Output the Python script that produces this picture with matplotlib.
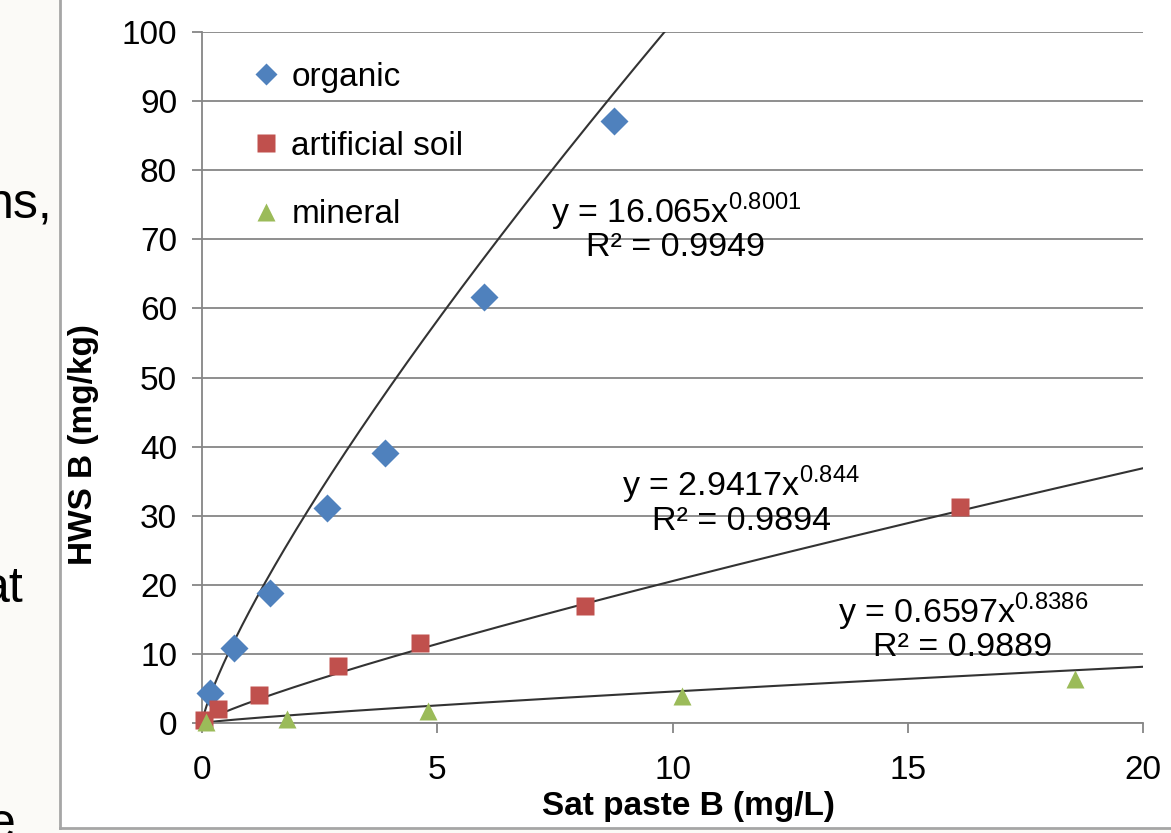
import numpy as np
import matplotlib
matplotlib.use("Agg")
import matplotlib.pyplot as plt
from matplotlib.lines import Line2D
from matplotlib.patches import Rectangle

plt.rcParams['font.family'] = ['Liberation Sans', 'DejaVu Sans']
plt.rcParams['mathtext.fontset'] = 'custom'
plt.rcParams['mathtext.rm'] = 'Liberation Sans'

# ---- data ----
organic_x = [0.17, 0.68, 1.44, 2.65, 3.88, 5.99, 8.75]
organic_y = [4.3, 10.9, 18.8, 31.1, 39.1, 61.7, 87.1]
artificial_x = [0.05, 0.35, 1.22, 2.88, 4.64, 8.15, 16.1]
artificial_y = [0.4, 2.0, 4.1, 8.3, 11.6, 17.0, 31.2]
mineral_x = [0.08, 1.80, 4.81, 10.2, 18.55]
mineral_y = [0.1, 0.6, 1.7, 3.9, 6.4]

# power trendline coefficients (y = a * x^b) and R² as shown on chart
organic_fit = (16.065, 0.8001, 0.9949)
artificial_fit = (2.9417, 0.844, 0.9894)
mineral_fit = (0.6597, 0.8386, 0.9889)

series_names = ['organic', 'artificial soil', 'mineral']
x_ticks = [0, 5, 10, 15, 20]
y_ticks = [0, 10, 20, 30, 40, 50, 60, 70, 80, 90, 100]

W, H = 1171, 833
FS = 24
fig = plt.figure(figsize=(W / 100, H / 100), dpi=100, facecolor='white')

# slide background strip + frame
fig.patches.append(Rectangle((0, 0), 60 / W, 1, transform=fig.transFigure,
                             facecolor='#FBFAF7', edgecolor='none', zorder=0))
fig.patches.append(Rectangle((0, 0), 1, 5 / H, transform=fig.transFigure,
                             facecolor='#FBFAF7', edgecolor='none', zorder=0))
fig.add_artist(Line2D([60 / W, 60 / W], [5 / H, 1], transform=fig.transFigure,
                      color='#A6A6A6', lw=2))
fig.add_artist(Line2D([60 / W, 1], [5 / H, 5 / H], transform=fig.transFigure,
                      color='#A6A6A6', lw=2))

# partial slide text at left (cut off in the reference as well)
fig.text(52 / W, 1 - 218 / H, 'ns,', fontsize=36, ha='right', va='baseline', color='black')
fig.text(24 / W, 1 - 602 / H, 'at', fontsize=36, ha='right', va='baseline', color='black')
fig.text(16 / W, 1 - 838 / H, 'e', fontsize=36, ha='right', va='baseline', color='black')

ax = fig.add_axes([202 / W, (H - 723) / H, (1143 - 202) / W, (723 - 32) / H])
ax.set_xlim(0, 20)
ax.set_ylim(0, 100)
ax.set_facecolor('none')

for s in ['top', 'right']:
    ax.spines[s].set_visible(False)
for s in ['left', 'bottom']:
    ax.spines[s].set_color('#868686')
    ax.spines[s].set_linewidth(1.3)

ax.set_xticks(x_ticks)
ax.set_yticks(y_ticks)
ax.set_xticklabels([str(v) for v in x_ticks])
ax.set_yticklabels([str(v) for v in y_ticks])
ax.tick_params(axis='both', direction='out', length=7, width=1.3, color='#868686',
               labelsize=FS, labelcolor='black')
ax.tick_params(axis='y', pad=11)
ax.tick_params(axis='x', pad=16)
ax.yaxis.grid(True, color='#868686', lw=1.3)
ax.set_axisbelow(True)

# trendlines
xx = np.linspace(0, 20, 400)
for a, b, _ in (organic_fit, artificial_fit, mineral_fit):
    ax.plot(xx, a * xx ** b, color='#333333', lw=1.5, zorder=2)

blue, red, green = '#4F81BD', '#C0504D', '#9BBB59'
ax.plot(organic_x, organic_y, 'D', color=blue, ms=14.5, mec='none', clip_on=False, zorder=3)
ax.plot(artificial_x, artificial_y, 's', color=red, ms=12.5, mec='none', clip_on=False, zorder=3)
ax.plot(mineral_x, mineral_y, '^', color=green, ms=12.5, mec='none', clip_on=False, zorder=3)

# legend
handles = [Line2D([], [], ls='none', marker='D', color=blue, ms=11, mec='none'),
           Line2D([], [], ls='none', marker='s', color=red, ms=12.5, mec='none'),
           Line2D([], [], ls='none', marker='^', color=green, ms=12.5, mec='none')]
ax.legend(handles, series_names, loc='upper left',
          bbox_to_anchor=(0.033, 0.976), frameon=False, fontsize=FS,
          handletextpad=0.15, labelspacing=1.13, borderaxespad=0, handlelength=1.2)

# equations
def eq(fit):
    a, b, r2 = fit
    return f'y = {a}x$^{{\\mathregular{{{b}}}}}$', f'R² = {r2}'

anns = [(organic_fit, 676, 212, 247),
        (artificial_fit, 741, 485, 522),
        (mineral_fit, 963, 612, 648)]
for fit, cx, y1, y2 in anns:
    t1, t2 = eq(fit)
    ax.text(cx / W, 1 - y1 / H, t1, transform=fig.transFigure, fontsize=FS + 0.5,
            ha='center', va='center')
    ax.text(cx / W, 1 - y2 / H, t2, transform=fig.transFigure, fontsize=FS + 0.5,
            ha='center', va='center')

ax.set_xlabel('Sat paste B (mg/L)', fontsize=FS, fontweight='bold')
ax.set_ylabel('HWS B (mg/kg)', fontsize=FS, fontweight='bold')
ax.xaxis.set_label_coords((688 - 202) / 941, (723 - 791) / 691)
ax.yaxis.set_label_coords((99 - 202) / 941, (723 - 445) / 691)

fig.savefig('out.png', dpi=100, facecolor=fig.get_facecolor())
